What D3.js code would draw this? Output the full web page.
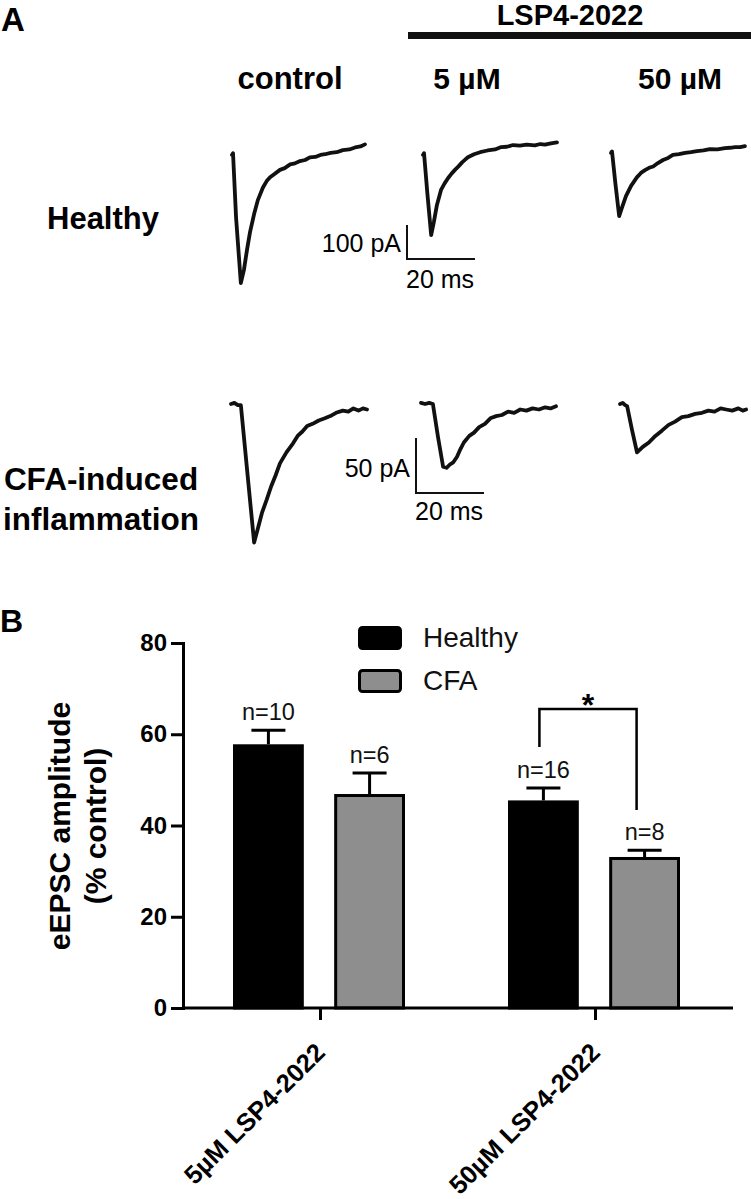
<!DOCTYPE html>
<html>
<head>
<meta charset="utf-8">
<script src="https://cdn.jsdelivr.net/npm/d3@7/dist/d3.min.js"></script>
<style>
  html, body { margin: 0; padding: 0; background: #fff; }
  svg { display: block; font-family: "Liberation Sans", Arial, Helvetica, sans-serif; }
</style>
</head>
<body>
<svg id="chart" width="751" height="1199"></svg>
<script>
// ---------------- DATA ----------------
// Panel B
const categories = ["5µM LSP4-2022", "50µM LSP4-2022"];
const groups = ["Healthy", "CFA"];
const healthyMean = [57.8, 45.5];
const healthySEM = [3.1, 2.7];
const cfaMean = [46.9, 33.1];
const cfaSEM = [4.6, 1.5];
const healthyN = [10, 16];
const cfaN = [6, 8];
const yTicks = [0, 20, 40, 60, 80];

// Panel A: example traces, [time (ms), current (pA)]
const columnLabels = ["control", "5 µM", "50 µM"];
const rowLabels = [["Healthy"], ["CFA-induced", "inflammation"]];
const traceHealthyControl = [[0,-35],[0.3,-30],[1.2,-220],[2.6,-412],[3.5,-374],[4.4,-315],[5.3,-262],[6.5,-209],[7.6,-168],[9.1,-131],[10.2,-112],[11.2,-101],[12.5,-91],[14.1,-79],[15.5,-74],[17.1,-63],[18.5,-60],[20.0,-53],[21.5,-50],[22.9,-42],[24.5,-41],[26.0,-35],[27.4,-33],[29.0,-29],[30.8,-27],[32.6,-21],[34.5,-19],[36.2,-13],[37.8,-10],[39.1,-4]];
const traceHealthy5 = [[0,-35],[0.3,-30],[1.3,-150],[2.4,-271],[3.2,-232],[4.1,-182],[5.3,-138],[6.4,-118],[7.4,-103],[8.4,-90],[9.4,-79],[10.5,-68],[11.5,-57],[12.4,-49],[13.2,-42],[15.0,-33],[16.8,-27],[19.0,-22],[21.2,-19],[23.0,-12],[24.7,-11],[26.5,-6],[28.5,-8],[30.5,-5],[32.9,-7],[34.5,-3],[35.9,-5],[37.6,-1],[39.4,2]];
const traceHealthy50 = [[0,-29],[0.3,-25],[1.3,-120],[2.4,-215],[3.2,-191],[4.4,-156],[5.9,-126],[7.6,-101],[8.8,-88],[10.0,-80],[11.2,-73],[12.4,-69],[13.8,-59],[15.3,-50],[16.8,-44],[18.2,-35],[20.0,-33],[21.8,-29],[23.5,-27],[25.3,-24],[27.2,-22],[29.1,-18],[31.3,-19],[33.5,-15],[35.0,-14],[36.5,-12],[38.0,-12],[39.4,-9]];
const traceCFAControl = [[0,0],[1.0,1],[2.0,-1],[2.9,-1],[4.8,-62],[6.8,-126],[8.0,-112],[9.1,-99],[10.5,-87],[11.8,-75],[13.1,-65],[14.4,-54],[16.3,-44],[18.2,-36],[19.6,-29],[21.0,-25],[22.4,-20],[24.0,-18],[25.8,-15],[27.6,-13],[29.2,-11],[30.9,-8],[32.9,-6],[34.5,-7],[36.0,-4],[37.5,-6],[38.8,-4],[40.0,-5]];
const traceCFA5 = [[0,1],[1.2,0],[2.4,1],[3.5,0],[5.0,-30],[6.5,-57],[7.5,-58],[8.5,-55],[9.5,-53],[10.6,-48],[11.6,-41],[12.6,-35],[14.2,-29],[15.6,-26],[17.1,-21],[18.8,-18],[20.4,-13],[22.1,-11],[23.8,-10],[25.6,-7],[27.4,-8],[29.2,-5],[31.0,-6],[32.8,-4],[34.7,-5],[36.5,-3],[38.1,-4],[39.7,-2]];
const traceCFA50 = [[0,0],[0.8,1],[1.5,-1],[2.1,-2],[3.5,-23],[5.0,-44],[6.7,-39],[8.5,-35],[10.4,-29],[12.4,-24],[14.3,-19],[16.2,-16],[18.2,-12],[20.1,-11],[22.1,-9],[24.1,-8],[26.0,-6],[27.8,-7],[29.6,-4],[31.2,-5],[33.0,-6],[34.8,-4],[36.1,-6],[37.1,-5]];
const traces = [
  [traceHealthyControl, traceHealthy5, traceHealthy50],
  [traceCFAControl, traceCFA5, traceCFA50]
];
const scaleBarPA = [100, 50];
const scaleBarMS = 20;

// ---------------- LAYOUT ----------------
const svg = d3.select("#chart");
const FONT = '"Liberation Sans", Arial, Helvetica, sans-serif';

// panel letters
svg.append("text").attr("x", 1).attr("y", 31).attr("font-size", 33).attr("font-weight", "bold").text("A");
svg.append("text").attr("x", 0).attr("y", 632).attr("font-size", 32).attr("font-weight", "bold").text("B");

// header
svg.append("text").attr("x", 570).attr("y", 25).attr("text-anchor", "middle")
  .attr("font-size", 29).attr("font-weight", "bold").text("LSP4-2022");
svg.append("rect").attr("x", 408).attr("y", 32).attr("width", 343).attr("height", 7).attr("fill", "#111");

const colCenters = [290, 467, 680];
columnLabels.forEach((c, i) => {
  svg.append("text").attr("x", colCenters[i]).attr("y", 89).attr("text-anchor", "middle")
    .attr("font-size", i === 0 ? 31 : 30).attr("font-weight", "bold").text(c);
});

// row labels
svg.append("text").attr("x", 103).attr("y", 229).attr("text-anchor", "middle")
  .attr("font-size", 31).attr("font-weight", "bold").text(rowLabels[0][0]);
rowLabels[1].forEach((t, i) => {
  svg.append("text").attr("x", 101).attr("y", 490 + i * 40).attr("text-anchor", "middle")
    .attr("font-size", 31.5).attr("font-weight", "bold").text(t);
});

// trace scales
const pxPerMs = 3.4;
const rowPxPerPA = [0.34, 1.1];
const rowY0 = [143, 404];
const colX0 = [[232, 423, 611], [231, 421, 620]];

traces.forEach((row, r) => {
  const yS = d3.scaleLinear().domain([0, -1]).range([rowY0[r], rowY0[r] + rowPxPerPA[r]]);
  row.forEach((tr, c) => {
    const xS = d3.scaleLinear().domain([0, 1]).range([colX0[r][c], colX0[r][c] + pxPerMs]);
    const line = d3.line().x(d => xS(d[0])).y(d => yS(d[1])).curve(d3.curveLinear);
    svg.append("path").attr("d", line(tr)).attr("fill", "none").attr("stroke", "#111")
      .attr("stroke-width", 3.8).attr("stroke-linejoin", "round").attr("stroke-linecap", "round");
  });
});

// scale bars
const sbX = [407, 416];
const sbBottom = [259, 493];
scaleBarPA.forEach((pa, r) => {
  const h = pa * rowPxPerPA[r];
  const w = scaleBarMS * pxPerMs;
  svg.append("path").attr("d", `M${sbX[r]},${sbBottom[r] - h}V${sbBottom[r]}H${sbX[r] + w}`)
    .attr("fill", "none").attr("stroke", "#111").attr("stroke-width", 2);
  svg.append("text").attr("x", sbX[r] - 6).attr("y", sbBottom[r] - (r === 0 ? 7 : 16))
    .attr("text-anchor", "end").attr("font-size", 25).text(pa + " pA");
  svg.append("text").attr("x", sbX[r] - 1).attr("y", sbBottom[r] + (r === 0 ? 29 : 27))
    .attr("text-anchor", "start").attr("font-size", 25).text(scaleBarMS + " ms");
});

// ---------------- PANEL B ----------------
const y = d3.scaleLinear().domain([0, 80]).range([1008, 643]);
const x0 = d3.scaleBand().domain(categories).range([183, 733]).padding(0);
const x1 = d3.scaleBand().domain(groups).range([50, 222]).paddingInner(0.3).paddingOuter(0);

const means = { Healthy: healthyMean, CFA: cfaMean };
const sems = { Healthy: healthySEM, CFA: cfaSEM };
const ns = { Healthy: healthyN, CFA: cfaN };
const fills = { Healthy: "#000", CFA: "#8e8e8e" };

// y axis
const yAxis = d3.axisLeft(y).tickValues(yTicks).tickSize(12).tickPadding(4);
const gy = svg.append("g").attr("transform", "translate(183,0)").call(yAxis);
gy.select(".domain").attr("stroke", "#000").attr("stroke-width", 3);
gy.selectAll(".tick line").attr("stroke", "#000").attr("stroke-width", 3);
gy.selectAll(".tick text").attr("font-size", 24).attr("font-weight", "bold").attr("fill", "#000")
  .attr("font-family", FONT);

// y title
const yt = svg.append("g").attr("transform", "translate(0,826) rotate(-90)");
yt.append("text").attr("x", 0).attr("y", 70).attr("text-anchor", "middle")
  .attr("font-size", 30).attr("font-weight", "bold").text("eEPSC amplitude");
yt.append("text").attr("x", 0).attr("y", 106).attr("text-anchor", "middle")
  .attr("font-size", 30).attr("font-weight", "bold").text("(% control)");

// bars
categories.forEach((cat, i) => {
  groups.forEach(g => {
    const bx = x0(cat) + x1(g);
    const bw = x1.bandwidth();
    const top = y(means[g][i]);
    const errTop = y(means[g][i] + sems[g][i]);
    const cx = bx + bw / 2;
    // error bar (upward only)
    svg.append("line").attr("x1", cx).attr("x2", cx).attr("y1", top).attr("y2", errTop)
      .attr("stroke", "#000").attr("stroke-width", 3);
    svg.append("line").attr("x1", cx - 17).attr("x2", cx + 17).attr("y1", errTop).attr("y2", errTop)
      .attr("stroke", "#000").attr("stroke-width", 3);
    svg.append("rect").attr("x", bx + 1.5).attr("y", top + 1.5).attr("width", bw - 3)
      .attr("height", y(0) - top - 1.5).attr("fill", fills[g]).attr("stroke", "#000").attr("stroke-width", 3);
    svg.append("text").attr("x", cx).attr("y", errTop - 10).attr("text-anchor", "middle")
      .attr("font-size", 23.5).attr("fill", "#111").text("n=" + ns[g][i]);
  });
});

// x axis
const xAxis = d3.axisBottom(x0).tickSize(12).tickFormat("");
const gx = svg.append("g").attr("transform", "translate(0,1008)").call(xAxis);
gx.select(".domain").attr("stroke", "#000").attr("stroke-width", 3).attr("d", "M183,0H733");
gx.selectAll(".tick line").attr("stroke", "#000").attr("stroke-width", 3);

categories.forEach(cat => {
  const tx = x0(cat) + x0.bandwidth() / 2;
  svg.append("text").attr("transform", `translate(${tx + 6},1054) rotate(-45)`)
    .attr("text-anchor", "end")
    .attr("font-size", 25.5).attr("font-weight", "bold").text(cat);
});

// significance bracket
const hx = x0(categories[1]) + x1("Healthy") + x1.bandwidth() / 2 - 4;
const cxr = x0(categories[1]) + x1("CFA") + x1.bandwidth() / 2 - 8;
svg.append("path").attr("d", `M${hx},747V709H${cxr}V810`).attr("fill", "none")
  .attr("stroke", "#000").attr("stroke-width", 2.5);
svg.append("text").attr("x", (hx + cxr) / 2).attr("y", 716).attr("text-anchor", "middle")
  .attr("font-size", 32).attr("font-weight", "bold").text("*");

// legend
groups.forEach((g, i) => {
  const ly = [626, 669][i];
  svg.append("rect").attr("x", 359.5).attr("y", ly + 1.5).attr("width", 41).attr("height", 21)
    .attr("rx", 3).attr("fill", fills[g]).attr("stroke", "#000").attr("stroke-width", 3);
  svg.append("text").attr("x", 423).attr("y", ly + 21).attr("font-size", 28).attr("fill", "#111").text(g);
});
</script>
</body>
</html>
